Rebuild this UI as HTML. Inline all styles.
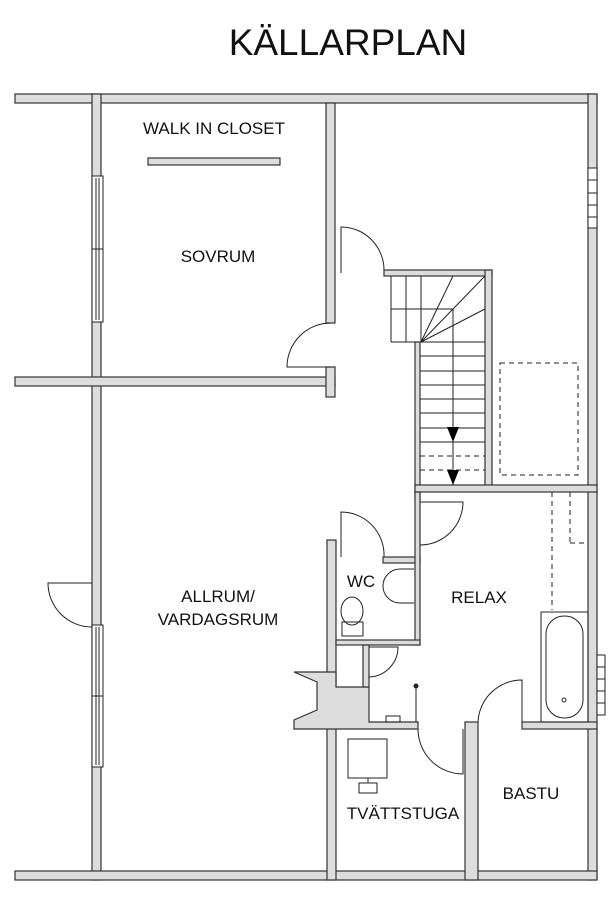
<!DOCTYPE html>
<html><head><meta charset="utf-8"><style>
html,body{margin:0;padding:0;background:#fff;}
svg{display:block}
text{font-family:"Liberation Sans",Arial,sans-serif;fill:#111}
</style></head><body>
<svg width="615" height="906" viewBox="0 0 615 906" xmlns="http://www.w3.org/2000/svg">
<text x="348" y="55" font-size="37" text-anchor="middle">KÄLLARPLAN</text>
<g fill="#ddd" stroke="#333" stroke-width="1.2">
<rect x="15" y="94" width="582" height="9"/>
<rect x="92" y="94" width="9" height="786"/>
<rect x="588" y="94" width="9" height="786"/>
<rect x="15" y="871" width="582" height="9"/>
<rect x="15" y="377" width="320" height="9"/>
<rect x="326" y="367" width="9" height="30"/>
<rect x="326" y="103" width="9" height="220"/>
<rect x="384" y="270" width="108" height="6"/>
<rect x="485" y="270" width="7" height="217"/>
<rect x="415" y="342" width="5" height="158"/>
<rect x="415" y="485" width="182" height="7"/>
<rect x="327" y="540" width="9" height="340"/>
<rect x="383" y="557" width="37" height="6"/>
<rect x="415" y="492" width="5" height="153"/>
<rect x="336" y="640" width="84" height="5"/>
<polygon points="294,672 317,682 317,710 294,720 294,729 418,729 418,722 369,722 369,687 336,687 336,672"/>
<rect x="363" y="645" width="6" height="42"/>
<rect x="465" y="722" width="13" height="158"/>
<rect x="522" y="722" width="75" height="7"/>
<rect x="148" y="158" width="132" height="7"/>
</g>
<g fill="none" stroke="#222" stroke-width="1">
<rect x="92" y="176" width="11" height="146" fill="#fff"/><line x1="96" y1="178" x2="96" y2="320"/><line x1="99" y1="178" x2="99" y2="320"/><line x1="92" y1="249" x2="103" y2="249"/>
<rect x="92" y="625" width="11" height="142" fill="#fff"/><line x1="96" y1="627" x2="96" y2="765"/><line x1="99" y1="627" x2="99" y2="765"/><line x1="92" y1="696" x2="103" y2="696"/>
<rect x="588" y="168" width="9" height="60" fill="#fff"/><line x1="588" y1="180" x2="597" y2="180"/><line x1="588" y1="193" x2="597" y2="193"/><line x1="588" y1="205" x2="597" y2="205"/><line x1="588" y1="217" x2="597" y2="217"/>
<rect x="597" y="655" width="8" height="60" fill="#fff"/><line x1="597" y1="667" x2="605" y2="667"/><line x1="597" y1="679" x2="605" y2="679"/><line x1="597" y1="691" x2="605" y2="691"/><line x1="597" y1="703" x2="605" y2="703"/>
<path d="M92 583 H48 A44 44 0 0 0 92 627"/>
<path d="M331 323 A44 44 0 0 0 287 367 H331"/>
<path d="M341 273 V227 A43 43 0 0 1 384 270"/>
<path d="M420 545 A43 43 0 0 0 463 502 H420"/>
<path d="M341 557 V512 A43 43 0 0 1 384 557"/>
<path d="M369 677 A30 30 0 0 0 398 647 H369"/>
<path d="M418 729 A45 45 0 0 0 463 774 V729"/>
<path d="M522 722 V680 A44 44 0 0 0 478 722"/>
<line x1="391" y1="276" x2="391" y2="342"/><line x1="406" y1="276" x2="406" y2="342"/><line x1="421" y1="276" x2="421" y2="342"/>
<line x1="391" y1="309" x2="453" y2="309"/><line x1="391" y1="342" x2="485" y2="342"/>
<line x1="421" y1="342" x2="453" y2="276"/><line x1="421" y1="342" x2="485" y2="276"/><line x1="421" y1="342" x2="485" y2="309"/>
<line x1="453" y1="309" x2="453" y2="485"/>
<g><line x1="420" y1="356" x2="485" y2="356"/><line x1="420" y1="371" x2="485" y2="371"/><line x1="420" y1="385" x2="485" y2="385"/><line x1="420" y1="399" x2="485" y2="399"/><line x1="420" y1="413" x2="485" y2="413"/><line x1="420" y1="428" x2="485" y2="428"/><line x1="420" y1="442" x2="485" y2="442"/></g>
<g stroke-dasharray="5,4"><line x1="420" y1="456" x2="485" y2="456"/><line x1="420" y1="470" x2="485" y2="470"/>
<rect x="500" y="363" width="78" height="112"/>
<line x1="552" y1="492" x2="552" y2="610"/><line x1="570" y1="492" x2="570" y2="543"/><line x1="570" y1="543" x2="588" y2="543"/></g>
<rect x="541" y="612" width="47" height="110"/>
<rect x="546" y="616" width="37" height="102" rx="18"/>
<circle cx="564" cy="700" r="2"/>
<path d="M414 569 H400 A17 17 0 0 0 400 603 H414"/>
<ellipse cx="352" cy="611" rx="11" ry="14"/><rect x="342" y="622" width="21" height="14"/>
<line x1="416" y1="686" x2="416" y2="722"/><circle cx="416" cy="686" r="2" fill="#222"/>
<rect x="386" y="716" width="14" height="6"/>
<rect x="348" y="739" width="39" height="39"/><rect x="359" y="783" width="18" height="10"/><line x1="368" y1="778" x2="368" y2="783"/>
</g>
<polygon points="447,427 459,427 453,442" fill="#000"/>
<polygon points="447,470 459,470 453,485" fill="#000"/>
<g font-size="17" text-anchor="middle">
<text x="214" y="134">WALK IN CLOSET</text>
<text x="218" y="262">SOVRUM</text>
<text x="218" y="602">ALLRUM/</text>
<text x="218" y="625">VARDAGSRUM</text>
<text x="361" y="587">WC</text>
<text x="479" y="603">RELAX</text>
<text x="531" y="799">BASTU</text>
<text x="403" y="819">TVÄTTSTUGA</text>
</g>
</svg>
</body></html>
